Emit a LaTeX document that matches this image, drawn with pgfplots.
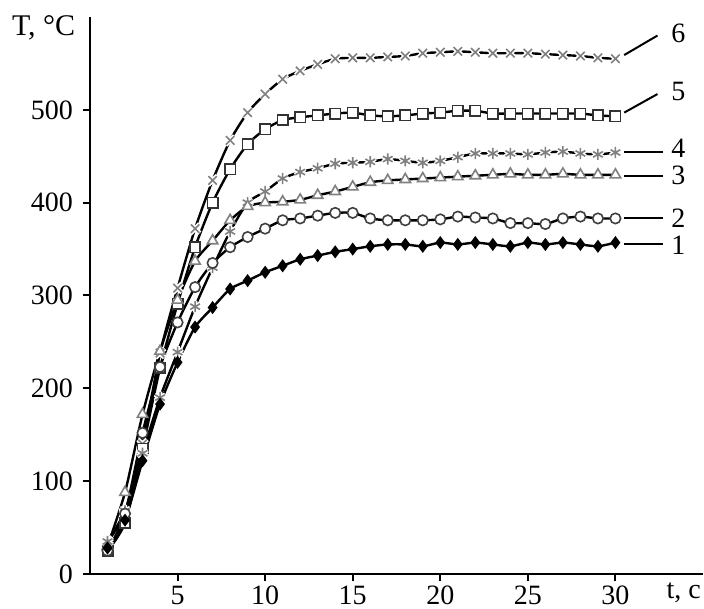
\documentclass[border=0pt]{standalone}
\usepackage{pgfplots}
\usepackage{pgfplotstable}
\pgfplotsset{compat=1.18}
\usepackage{fontspec}
\setmainfont{Liberation Serif}

\pgfplotstableread{
x  c1  c2  c3  c4  c5  c6
1  28  25  30  35  25  35
2  58  65  88  68  55  65
3  122 152 172 130 135 140
4  183 223 240 190 222 238
5  228 271 295 239 291 308
6  266 309 337 288 352 372
7  287 335 359 330 400 424
8  307 352 381 369 436 467
9  316 363 396 400 463 497
10 325 372 400 412 479 517
11 332 381 401 426 489 533
12 339 383 403 433 492 542
13 343 386 408 437 494 549
14 347 389 412 442 496 555
15 350 389 417 443 497 556
16 353 383 422 444 494 556
17 355 381 424 447 493 557
18 355 381 425 445 494 558
19 353 381 426 443 496 561
20 357 382 427 445 497 562
21 355 385 428 449 499 563
22 357 384 429 453 499 562
23 355 383 430 453 496 561
24 353 378 431 453 496 561
25 357 378 430 452 496 561
26 355 377 430 454 496 560
27 357 383 431 455 496 559
28 355 385 430 453 496 558
29 353 383 430 452 494 556
30 357 383 430 454 493 555
}\datatable

\begin{document}
\begin{tikzpicture}
\begin{axis}[
  scale only axis, width=306.5pt, height=278.5pt,
  xmin=0, xmax=35, ymin=0, ymax=600,
  axis x line=bottom, axis y line=left,
  axis line style={-, line width=1.2pt},
  xtick={5,10,...,30}, ytick={0,100,...,500},
  tick align=outside, major tick length=3.5pt,
  tick style={line width=1pt, black},
  clip=false,
  ticklabel style={font=\fontsize{14}{16}\selectfont},
  xticklabel style={yshift=1pt},
  yticklabel style={xshift=-1.5pt},
  /pgf/number format/assume math mode=true,
  every axis plot/.append style={line width=1.2pt, black},
]
\coordinate (o) at (axis cs:0,0);
% curve 6
\addplot[smooth, tension=0.4] table[x=x,y=c6] {\datatable};
\addplot[only marks, mark=x, mark size=3.2pt, mark options={draw=white, line width=2.4pt}] table[x=x,y=c6] {\datatable};
\addplot[only marks, mark=x, mark size=3pt, mark options={draw=gray, line width=0.8pt}] table[x=x,y=c6] {\datatable};
% curve 5
\addplot[smooth, tension=0.4, mark=square*, mark size=2.6pt, mark options={fill=white, draw=black!80, line width=0.8pt}] table[x=x,y=c5] {\datatable};
% curve 4
\addplot[smooth, tension=0.4] table[x=x,y=c4] {\datatable};
\addplot[only marks, mark=asterisk, mark size=3pt, mark options={draw=white, line width=2.2pt}] table[x=x,y=c4] {\datatable};
\addplot[only marks, mark=asterisk, mark size=2.8pt, mark options={draw=gray, line width=0.8pt}] table[x=x,y=c4] {\datatable};
% curve 3
\addplot[smooth, tension=0.4, mark=triangle*, mark size=3pt, mark options={fill=white, draw=gray, line width=0.8pt}] table[x=x,y=c3] {\datatable};
% curve 2
\addplot[smooth, tension=0.4, mark=*, mark size=2.6pt, mark options={fill=white, draw=black!75, line width=0.8pt}] table[x=x,y=c2] {\datatable};
% curve 1
\addplot[smooth, tension=0.4, mark=diamond*, mark size=2.3pt, mark options={fill=black, draw=black}] table[x=x,y=c1] {\datatable};

% curve labels
\draw[line width=1pt] (axis cs:30.5,559) -- (axis cs:32.4,580);
\draw[line width=1pt] (axis cs:30.5,497) -- (axis cs:32.4,517);
\draw[line width=1pt] (axis cs:30.5,455) -- (axis cs:32.7,455);
\draw[line width=1pt] (axis cs:30.5,429) -- (axis cs:32.7,429);
\draw[line width=1pt] (axis cs:30.5,383) -- (axis cs:32.7,383);
\draw[line width=1pt] (axis cs:30.5,355) -- (axis cs:32.7,355);
\begin{scope}[every node/.style={font=\fontsize{14}{16}\selectfont}]
\node at (axis cs:33.6,582) {6};
\node at (axis cs:33.6,520) {5};
\node at (axis cs:33.6,459) {4};
\node at (axis cs:33.6,429) {3};
\node at (axis cs:33.6,383) {2};
\node at (axis cs:33.6,354) {1};
\node[font=\fontsize{15}{17}\selectfont] at (axis cs:-2.65,588) {T, °C};
\node at (axis cs:33.9,-20) {t, c};
\end{scope}
\end{axis}
\pgfresetboundingbox
\path (o) ++(-45pt,-17pt) rectangle ++(352pt,304pt);
\end{tikzpicture}
\end{document}
